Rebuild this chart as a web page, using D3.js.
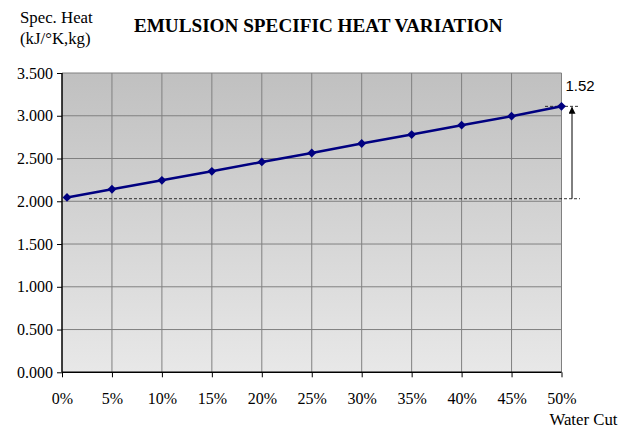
<!DOCTYPE html>
<html>
<head>
<meta charset="utf-8">
<script src="https://cdn.jsdelivr.net/npm/d3@7"></script>
<style>
  body { margin: 0; background: #fff; }
  svg { display: block; }
</style>
</head>
<body>
<div id="chart"></div>
<script>
"use strict";

var waterCut = [0.005, 0.05, 0.10, 0.15, 0.20, 0.25, 0.30, 0.35, 0.40, 0.45, 0.50];
var specHeat = [2.045, 2.14, 2.245, 2.35, 2.46, 2.565, 2.675, 2.78, 2.89, 2.995, 3.11];
var yTicks = [0, 0.5, 1, 1.5, 2, 2.5, 3, 3.5];
var xTicks = [0, 0.05, 0.10, 0.15, 0.20, 0.25, 0.30, 0.35, 0.40, 0.45, 0.50];
var baseLevel = 2.03;
var ratioLabel = "1.52";

var W = 619, H = 430;
var pL = 62, pR = 561.5, pT = 73, pB = 372.3;

var svg = d3.select('#chart').append('svg').attr('width', W).attr('height', H);

var x = d3.scaleLinear().domain([0, 0.5]).range([pL, pR]);
var y = d3.scaleLinear().domain([0, 3.5]).range([pB, pT]);

var defs = svg.append('defs');
var grad = defs.append('linearGradient').attr('id', 'bg').attr('x1', 0).attr('y1', 0).attr('x2', 0).attr('y2', 1);
grad.append('stop').attr('offset', '0%').attr('stop-color', '#c0c0c0');
grad.append('stop').attr('offset', '100%').attr('stop-color', '#e8e8e8');
var mk = defs.append('marker').attr('id', 'arrow').attr('viewBox', '0 0 10 10').attr('refX', 9).attr('refY', 5)
  .attr('markerWidth', 10).attr('markerHeight', 7).attr('markerUnits', 'userSpaceOnUse').attr('orient', 'auto');
mk.append('path').attr('d', 'M0,0 L10,5 L0,10 z').attr('fill', '#000');

svg.append('rect').attr('x', pL).attr('y', pT).attr('width', pR - pL).attr('height', pB - pT)
  .attr('fill', 'url(#bg)');

// grid
svg.append('g').selectAll('line').data(yTicks.slice(1)).join('line')
  .attr('x1', pL).attr('x2', pR).attr('y1', d => y(d)).attr('y2', d => y(d))
  .attr('stroke', '#808080').attr('stroke-width', 1);
svg.append('g').selectAll('line').data(xTicks.slice(1)).join('line')
  .attr('y1', pT).attr('y2', pB).attr('x1', d => x(d)).attr('x2', d => x(d))
  .attr('stroke', '#808080').attr('stroke-width', 1);

// axes
var serif = '"Liberation Serif", "Times New Roman", serif';
var yAxis = svg.append('g').attr('transform', 'translate(' + pL + ',0)')
  .call(d3.axisLeft(y).tickValues(yTicks).tickFormat(d3.format('.3f')).tickSize(5).tickPadding(4));
var xAxis = svg.append('g').attr('transform', 'translate(0,' + pB + ')')
  .call(d3.axisBottom(x).tickValues(xTicks).tickFormat(d3.format('.0%')).tickSize(5).tickPadding(15));
[yAxis, xAxis].forEach(function (a) {
  a.select('.domain').attr('stroke', '#000').attr('stroke-width', 1.5);
  a.selectAll('.tick line').attr('stroke', '#000');
  a.selectAll('text').attr('font-family', serif).attr('font-size', 16).attr('fill', '#000');
});
yAxis.select('.domain').attr('d', 'M0,' + pT + 'V' + pB);
xAxis.select('.domain').attr('d', 'M' + pL + ',0H' + pR);

// annotation
var yTop = y(specHeat[specHeat.length - 1]);
var yBase = y(baseLevel);
svg.append('line').attr('x1', 89).attr('x2', 580).attr('y1', yBase).attr('y2', yBase)
  .attr('stroke', '#000').attr('stroke-width', 0.8).attr('stroke-dasharray', '3,2');
svg.append('line').attr('x1', 545).attr('x2', 580).attr('y1', yTop).attr('y2', yTop)
  .attr('stroke', '#000').attr('stroke-width', 0.8).attr('stroke-dasharray', '3,2');
svg.append('line').attr('x1', 572).attr('x2', 572).attr('y1', yBase).attr('y2', yTop + 1)
  .attr('stroke', '#000').attr('stroke-width', 1).attr('marker-end', 'url(#arrow)');
svg.append('text').attr('x', 565.5).attr('y', 90.5).text(ratioLabel)
  .attr('font-family', '"Liberation Sans", Arial, sans-serif').attr('font-size', 15).attr('fill', '#000');

// series
var line = d3.line().x((d, i) => x(waterCut[i])).y(d => y(d));
svg.append('path').datum(specHeat).attr('d', line).attr('fill', 'none')
  .attr('stroke', '#000080').attr('stroke-width', 2.5);
svg.append('g').selectAll('path').data(specHeat).join('path')
  .attr('transform', (d, i) => 'translate(' + x(waterCut[i]) + ',' + y(d) + ')')
  .attr('d', d3.symbol().type(d3.symbolDiamond2).size(50))
  .attr('fill', '#000080');

// titles
svg.append('text').attr('x', 318.3).attr('y', 31.7).attr('text-anchor', 'middle')
  .attr('font-family', serif).attr('font-weight', 'bold').attr('font-size', 19.2).text('EMULSION SPECIFIC HEAT VARIATION');
svg.append('text').attr('x', 20).attr('y', 22.7).attr('font-family', serif).attr('font-size', 16.8).text('Spec. Heat');
svg.append('text').attr('x', 20).attr('y', 43.5).attr('font-family', serif).attr('font-size', 16.8).text('(kJ/°K,kg)');
svg.append('text').attr('x', 617.5).attr('y', 425).attr('text-anchor', 'end')
  .attr('font-family', serif).attr('font-size', 16.8).text('Water Cut');
</script>
</body>
</html>
